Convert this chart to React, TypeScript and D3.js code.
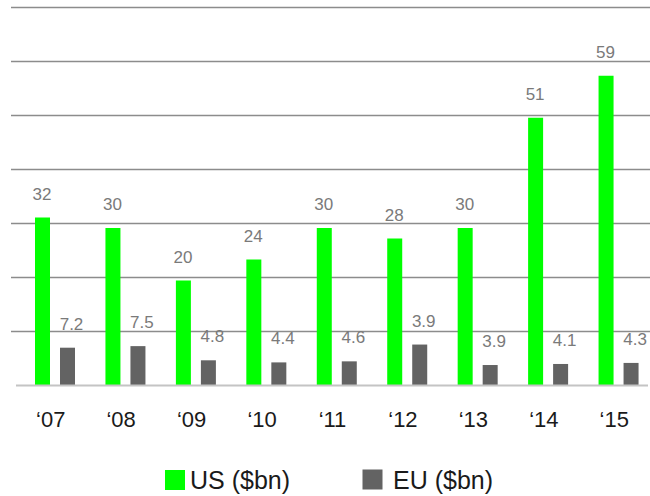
import React from "react";
import * as d3 from "d3";

const years = ["'07", "'08", "'09", "'10", "'11", "'12", "'13", "'14", "'15"];
const yearLabels = ["\u201807", "\u201808", "\u201809", "\u201810", "\u201811", "\u201812", "\u201813", "\u201814", "\u201815"];
const usValues = [32, 30, 20, 24, 30, 28, 30, 51, 59];
const usLabels = ["32", "30", "20", "24", "30", "28", "30", "51", "59"];
const euValues = [7.2, 7.5, 4.8, 4.4, 4.6, 7.8, 3.9, 4.1, 4.3];
const euLabels = ["7.2", "7.5", "4.8", "4.4", "4.6", "3.9", "3.9", "4.1", "4.3"];
const seriesNames = ["US ($bn)", "EU ($bn)"];
const yMax = 72;
const gridCount = 7;

const W = 650;
const H = 496;
const FONT = "'Liberation Sans', Arial, Helvetica, sans-serif";
const GREEN = "#00ff00";
const GREY = "#636363";

export default function App() {
  const x = d3.scaleBand<string>().domain(years).range([20, 654]).paddingInner(0).paddingOuter(0);
  const step = x.step();
  const sub = d3
    .scaleBand<string>()
    .domain(["US", "EU"])
    .range([10, 60])
    .paddingInner(0.4)
    .paddingOuter(0.2);
  const y = d3.scaleLinear().domain([0, yMax]).range([385.5, 7.5]);
  const grid = d3.range(1, gridCount + 1).map((i) => (i * yMax) / gridCount);
  const bw = sub.bandwidth();

  return (
    <svg
      width={W}
      height={H}
      style={{ position: "absolute", left: 0, top: 0, background: "#fff" }}
      fontFamily={FONT}
    >
      {grid.map((g, i) => (
        <line key={i} x1={11} x2={650} y1={y(g)} y2={y(g)} stroke="#8c8c8c" strokeWidth={1.3} />
      ))}
      {years.map((yr, i) => {
        const gx = x(yr)!;
        const ux = gx + sub("US")!;
        const ex = gx + sub("EU")!;
        return (
          <g key={yr}>
            <rect x={ux} y={y(usValues[i])} width={bw} height={y(0) - y(usValues[i])} fill={GREEN} />
            <rect x={ex} y={y(euValues[i])} width={bw} height={y(0) - y(euValues[i])} fill={GREY} />
            <text
              x={ux + bw / 2 - 0.5}
              y={y(usValues[i]) - 18}
              textAnchor="middle"
              fontSize={17}
              fill="#7a7a7a"
            >
              {usLabels[i]}
            </text>
            <text
              x={ex + bw / 2 + 4}
              y={y(euValues[i]) - 18}
              textAnchor="middle"
              fontSize={17}
              fill="#7a7a7a"
            >
              {euLabels[i]}
            </text>
            <text
              x={gx + step / 2 - 4.5}
              y={426.5}
              textAnchor="middle"
              fontSize={22}
              fill="#1a1a1a"
            >
              {yearLabels[i]}
            </text>
          </g>
        );
      })}
      <line x1={16} x2={648} y1={y(0)} y2={y(0)} stroke="#c4c4c4" strokeWidth={2} />
      <g>
        <rect x={165} y={470} width={20} height={20} fill={GREEN} />
        <text x={190} y={489} fontSize={25} fill="#1a1a1a">
          {seriesNames[0]}
        </text>
        <rect x={362.5} y={469.5} width={20} height={20} fill={GREY} />
        <text x={393} y={489} fontSize={25} fill="#1a1a1a">
          {seriesNames[1]}
        </text>
      </g>
    </svg>
  );
}
